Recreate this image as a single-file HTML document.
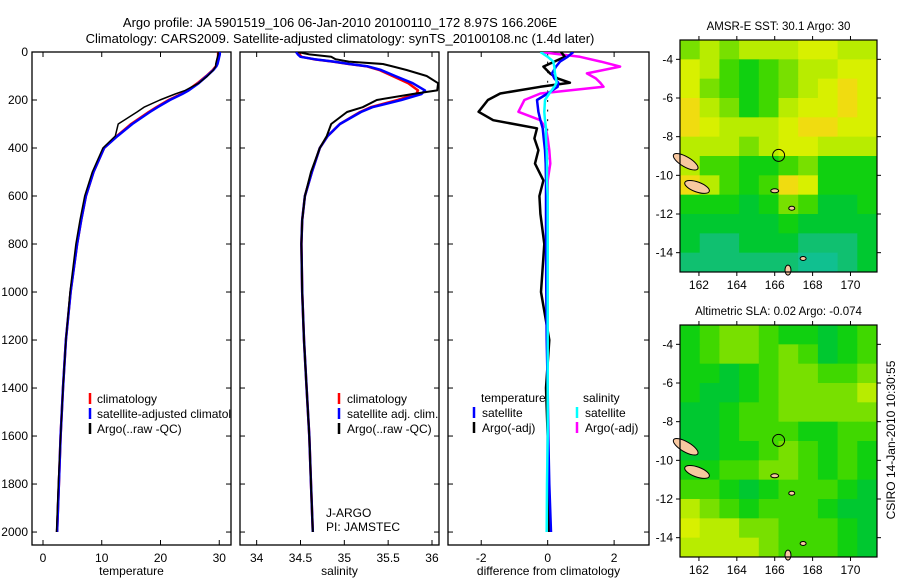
<!DOCTYPE html>
<html><head><meta charset="utf-8">
<style>
body{margin:0;background:#fff;}
svg{display:block;font-family:"Liberation Sans",Arial,sans-serif;}
</style></head>
<body>
<svg id="fig" width="900" height="580" viewBox="0 0 900 580">
<text x="340" y="27" font-size="13" text-anchor="middle">Argo profile: JA 5901519_106 06-Jan-2010 20100110_172 8.97S 166.206E</text>
<text x="340" y="43" font-size="13" text-anchor="middle">Climatology: CARS2009. Satellite-adjusted climatology: synTS_20100108.nc (1.4d later)</text>
<g id="g"></g>
</svg>
<script>
// ---- data ----
const depthLevels=[0,10,20,30,40,50,60,75,100,130,160,175,200,230,250,300,350,400,500,600,700,800,1000,1200,1400,1600,1800,2000];
const tempClim=[29.8,29.8,29.8,29.7,29.6,29.6,29.4,28.9,27.8,26.3,24.6,23.5,21.4,19.3,18.0,15.0,12.6,10.4,8.6,7.3,6.5,5.8,4.7,3.9,3.4,3.0,2.7,2.4];
const tempSat=[30.1,30.1,30.0,29.9,29.8,29.7,29.5,29.0,27.9,26.5,24.8,23.7,21.6,19.5,18.2,15.2,12.7,10.4,8.6,7.3,6.5,5.8,4.7,3.9,3.4,3.0,2.7,2.4];
const tempArgo=[29.8,29.8,29.7,29.6,29.5,29.4,29.4,29.0,28.0,26.5,24.2,22.5,19.9,17.2,16.0,12.8,12.3,10.2,8.4,7.1,6.3,5.6,4.6,3.9,3.4,3.0,2.6,2.3];
const salClim=[34.47,34.49,34.51,34.65,34.87,35.05,35.26,35.40,35.55,35.73,35.84,35.82,35.61,35.30,35.18,34.95,34.81,34.72,34.63,34.55,34.52,34.51,34.52,34.54,34.57,34.60,34.62,34.64];
const salSat=[34.45,34.47,34.50,34.66,34.88,35.06,35.27,35.42,35.58,35.78,35.92,35.88,35.65,35.32,35.19,34.95,34.81,34.72,34.63,34.55,34.52,34.51,34.52,34.54,34.57,34.60,34.62,34.64];
const salArgo=[34.47,34.60,34.85,34.90,35.05,35.44,35.55,35.71,35.94,36.07,36.06,35.78,35.37,35.21,35.03,34.85,34.80,34.72,34.62,34.55,34.52,34.51,34.52,34.54,34.57,34.60,34.62,34.64];
const diffDepth=[0,20,40,61,89,110,128,145,173,200,249,284,318,360,409,465,535,600,674,800,1000,1200,1400,1600,1800,2000];
const dTempArgo=[0.4,0.52,0.2,-0.13,0.07,0.3,0.67,-0.22,-1.43,-1.8,-2.08,-1.64,-0.32,-0.4,-0.28,-0.38,-0.13,-0.25,-0.22,-0.1,-0.2,0.05,-0.05,0.0,0.0,0.05];
const dTempSat=[0.77,0.6,0.37,0.25,0.13,0.2,0.32,0.3,0.0,-0.32,-0.28,-0.22,-0.15,-0.12,-0.08,-0.06,-0.05,-0.05,-0.05,-0.05,-0.04,-0.03,0.0,0.02,0.05,0.1];
const dSalArgo=[-0.22,0.97,1.6,2.18,1.18,1.45,1.58,1.68,-0.22,-0.7,-0.88,-0.22,-0.05,0.0,0.05,0.08,0.0,0.0,0.0,0.0,0.0,0.0,-0.02,0.0,0.0,0.0];
const dSalSat=[-0.22,0.0,0.17,0.2,0.22,0.25,0.27,0.2,0.05,-0.08,-0.1,-0.08,-0.05,-0.05,-0.03,-0.02,-0.02,0,0,0,0,0,0,0,-0.02,-0.03];
const depthTicks=[0,200,400,600,800,1000,1200,1400,1600,1800,2000];
const tempTicks=[0,10,20,30];
const salTicks=[34,34.5,35,35.5,36];
const diffTicks=[-2,0,2];
const lonTicks=[162,164,166,168,170];
const latTicks=[-4,-6,-8,-10,-12,-14];
const sstGrid=[
[5,6,5,6,6,6,7,7,6,6],
[7,6,4,3,4,5,6,6,7,7],
[7,5,4,3,4,5,6,7,8,7],
[8,6,5,3,4,6,7,7,8,7],
[8,7,6,6,6,7,8,8,7,7],
[6,6,6,5,6,7,7,6,6,6],
[6,4,4,3,3,4,5,3,3,3],
[8,6,4,3,4,8,7,3,3,3],
[3,3,3,2,3,5,4,2,2,3],
[2,2,2,2,2,3,2,2,2,2],
[2,1,1,2,2,2,1,1,1,2],
[1,1,1,1,1,1,0,0,1,2]];
const slaGrid=[
[3,4,5,5,4,3,3,2,3,4],
[3,4,5,5,4,5,4,2,3,4],
[3,3,2,3,4,5,5,4,4,5],
[3,2,2,3,4,5,5,5,5,6],
[2,2,3,4,4,5,5,5,5,5],
[2,2,3,4,4,4,3,3,4,4],
[2,2,3,3,4,5,4,3,4,3],
[3,3,4,4,5,5,4,3,4,3],
[4,4,3,2,3,4,4,4,3,2],
[6,5,4,3,4,4,4,3,2,2],
[7,6,6,5,5,4,4,4,3,2],
[6,6,6,6,5,4,4,4,3,2]];
const floatLon=166.206, floatLat=-8.97;
const palette=["#10c090","#10c070","#00c830","#10d010","#40d800","#78e000","#b8ec00","#d8f000","#f0dc10","#f0b830"];

// ---- helpers ----
const NS="http://www.w3.org/2000/svg";
const G=document.getElementById('g');
function el(tag,attrs,parent){const e=document.createElementNS(NS,tag);for(const k in attrs)e.setAttribute(k,attrs[k]);(parent||G).appendChild(e);return e;}
function lin(d0,d1,r0,r1){return v=>r0+(v-d0)*(r1-r0)/(d1-d0);}
const yTop=52,yBot=545;
const yDepth=lin(0,2054,yTop,yBot);

function panel(name,x0,x1,xmin,xmax,ticks,label,showY){
  const xs=lin(xmin,xmax,x0,x1);
  const r=el('rect',{x:x0,y:yTop,width:x1-x0,height:yBot-yTop,fill:'none',stroke:'#000','stroke-width':1.3});
  
  
  ticks.forEach(t=>{
    const x=xs(t);
    el('line',{x1:x,x2:x,y1:yBot,y2:yBot-5,stroke:'#000'});
    el('line',{x1:x,x2:x,y1:yTop,y2:yTop+5,stroke:'#000'});
    const tx=el('text',{x:x,y:yBot+17,'font-size':12,'text-anchor':'middle'});
    tx.textContent=String(t);
    
    
  });
  depthTicks.forEach(d=>{
    const y=yDepth(d);
    el('line',{x1:x0,x2:x0+5,y1:y,y2:y,stroke:'#000'});
    el('line',{x1:x1,x2:x1-5,y1:y,y2:y,stroke:'#000'});
    if(showY){
      const tx=el('text',{x:x0-4,y:y+4,'font-size':12,'text-anchor':'end'});
      tx.textContent=String(d);
      
      
    }
  });
  const lb=el('text',{x:(x0+x1)/2,y:575,'font-size':12,'text-anchor':'middle'});
  lb.textContent=label;
  
  
  return xs;
}
function profile(name,xs,vals,depths,color,w,clipId){
  const pts=vals.map((v,i)=>xs(v).toFixed(1)+','+yDepth(depths[i]).toFixed(1)).join(' ');
  const p=el('polyline',{points:pts,fill:'none',stroke:color,'stroke-width':w,'stroke-linejoin':'round','clip-path':'url(#'+clipId+')'});
  
  
}
function clip(id,x,y,w,h){const d=el('defs',{});const c=el('clipPath',{id:id},d);el('rect',{x:x,y:y,width:w,height:h},c);}
function legendRow(x,y,color,text,name){
  el('line',{x1:x,x2:x,y1:y-10,y2:y+1,stroke:color,'stroke-width':2.5});
  const t=el('text',{x:x+8,y:y,'font-size':12});
  t.textContent=text;
  
  
}

// panel 1 temperature
clip('c1',32,yTop,199,yBot-yTop);
const xT=panel('temperature-panel',32,231,-1.87,32.0,tempTicks,'temperature',true);
profile('temp-climatology-line',xT,tempClim,depthLevels,'#f00',2.5,'c1');
profile('temp-satellite-line',xT,tempSat,depthLevels,'#00f',2.5,'c1');
profile('temp-argo-line',xT,tempArgo,depthLevels,'#000',1.5,'c1');
const lg1=el('g',{'clip-path':'url(#c1)'});
[['#f00','climatology'],['#00f','satellite-adjusted climatology'],['#000','Argo(..raw -QC)']].forEach((r,i)=>{
  const y=403+i*15;
  el('line',{x1:90,x2:90,y1:y-10,y2:y+1,stroke:r[0],'stroke-width':2.5},lg1);
  const t=el('text',{x:97,y:y,'font-size':12},lg1);t.textContent=r[1];
  
  
});

// panel 2 salinity
clip('c2',240,yTop,199,yBot-yTop);
const xS=panel('salinity-panel',240,439,33.81,36.08,salTicks,'salinity',false);
profile('sal-climatology-line',xS,salClim,depthLevels,'#f00',2.5,'c2');
profile('sal-satellite-line',xS,salSat,depthLevels,'#00f',2.5,'c2');
profile('sal-argo-line',xS,salArgo,depthLevels,'#000',2,'c2');
legendRow(339,403,'#f00','climatology','sal-legend-climatology');
legendRow(339,418,'#00f','satellite adj. clim.','sal-legend-satellite');
legendRow(339,433,'#000','Argo(..raw -QC)','sal-legend-argo');
const ja=el('text',{x:326,y:517,'font-size':12});ja.textContent='J-ARGO';

const pi=el('text',{x:326,y:531,'font-size':12});pi.textContent='PI: JAMSTEC';


// panel 3 difference
clip('c3',448,yTop,201,yBot-yTop);
const xD=panel('difference-panel',448,649,-3,3.05,diffTicks,'difference from climatology',false);
for(let d=0;d<2000;d+=40){el('line',{x1:xD(0),x2:xD(0),y1:yDepth(d),y2:yDepth(d+8),stroke:'#000','stroke-width':1});}
profile('diff-sal-argo-line',xD,dSalArgo,diffDepth,'#f0f',2.5,'c3');
profile('diff-temp-argo-line',xD,dTempArgo,diffDepth,'#000',2.5,'c3');
profile('diff-temp-sat-line',xD,dTempSat,diffDepth,'#00f',2.5,'c3');
profile('diff-sal-sat-line',xD,dSalSat,diffDepth,'#0ff',2.5,'c3');
const th=el('text',{x:481,y:402,'font-size':12});th.textContent='temperature';

const sh=el('text',{x:583,y:402,'font-size':12});sh.textContent='salinity';

legendRow(474,417,'#00f','satellite','diff-legend-temp-satellite');
legendRow(474,432,'#000','Argo(-adj)','diff-legend-temp-argo');
legendRow(577,417,'#0ff','satellite','diff-legend-sal-satellite');
legendRow(577,432,'#f0f','Argo(-adj)','diff-legend-sal-argo');

// maps
function map(name,top,grid,title){
  const x0=680,x1=877,y0=top,y1=top+232;
  const xs=lin(161,171.4,x0,x1), ys=lin(-3,-15,y0,y1);
  const nr=grid.length,nc=grid[0].length;
  const lonStep=(171.4-161)/nc, latStep=12/nr;
  grid.forEach((row,r)=>row.forEach((v,c)=>{
    const xa=xs(161+c*lonStep), xb=xs(161+(c+1)*lonStep), ya=ys(-3-r*latStep), yb=ys(-3-(r+1)*latStep);
    const cell=el('rect',{x:xa,y:ya,width:xb-xa+0.5,height:yb-ya+0.5,fill:palette[v]});
    
    
  }));
  [[161.3,-9.3,5,14,-60],[161.9,-10.6,13,5,20],[166.7,-14.9,3,5,0],[167.5,-14.3,3,2,0],[166.0,-10.8,4,2,0],[166.9,-11.7,3,2,0]].forEach(s=>{
    const e=el('ellipse',{cx:xs(s[0]),cy:ys(s[1]),rx:s[2],ry:s[3],fill:'#f8c8a0',stroke:'#000','stroke-width':1,transform:`rotate(${s[4]} ${xs(s[0])} ${ys(s[1])})`});
    
    
  });
  const m=el('circle',{cx:xs(floatLon),cy:ys(floatLat),r:6,fill:'none',stroke:'#000','stroke-width':1});
  
  
  el('rect',{x:x0,y:y0,width:x1-x0,height:y1-y0,fill:'none',stroke:'#000','stroke-width':1.2});
  lonTicks.forEach(t=>{const x=xs(t);el('line',{x1:x,x2:x,y1:y1,y2:y1+4,stroke:'#000'});el('line',{x1:x,x2:x,y1:y0,y2:y0-4,stroke:'#000'});
    const tx=el('text',{x:x,y:y1+17,'font-size':12,'text-anchor':'middle'});tx.textContent=String(t);
    });
  latTicks.forEach(t=>{const y=ys(t);el('line',{x1:x0,x2:x0-4,y1:y,y2:y,stroke:'#000'});el('line',{x1:x1,x2:x1+4,y1:y,y2:y,stroke:'#000'});
    const tx=el('text',{x:x0-7,y:y+4,'font-size':12,'text-anchor':'end'});tx.textContent=String(t);
    });
  const tt=el('text',{x:(x0+x1)/2,y:top-10,'font-size':11.5,'text-anchor':'middle'});tt.textContent=title;
  
}
map('sst-map',40,sstGrid,'AMSR-E SST: 30.1 Argo: 30');
map('sla-map',325,slaGrid,'Altimetric SLA: 0.02 Argo: -0.074');
const cs=el('text',{x:0,y:0,'font-size':12,'text-anchor':'middle',transform:'translate(895,440) rotate(-90)'});
cs.textContent='CSIRO 14-Jan-2010 10:30:55';


</script>
</body></html>
